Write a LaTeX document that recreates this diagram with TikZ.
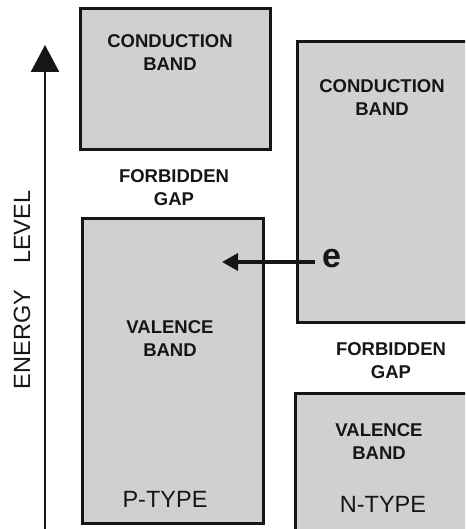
\documentclass[tikz,border=0pt]{standalone}
\usepackage{fontspec}
\setmainfont{Liberation Sans}
\usetikzlibrary{arrows.meta,positioning}
\definecolor{bandgray}{HTML}{D0D0D0}
\definecolor{inkgray}{HTML}{161616}

\begin{document}
\begin{tikzpicture}[
x=1pt,y=-1pt,
band/.style={draw=inkgray,fill=bandgray,line width=3pt,inner sep=0pt},
lbl/.style={align=center,font=\bfseries\fontsize{18.5}{23}\selectfont,inner sep=0pt,text=inkgray},
typ/.style={font=\fontsize{23.5}{27}\selectfont,inner sep=0pt,text=inkgray},
axis/.style={-{Triangle[width=28pt,length=27pt]},line width=2.5pt},
earr/.style={-{Triangle[width=17pt,length=16pt]},line width=3.5pt}
]
\useasboundingbox (0,0) rectangle (465,529);
\clip (0,0) rectangle (465,529);
% bands
\node[band,minimum width=190pt,minimum height=141pt] (pcb) at (175,79.5) {};
\node[band,minimum width=190pt,minimum height=280pt] (ncb) at (392,182) {};
\node[band,minimum width=181pt,minimum height=305pt] (pvb) at (172.5,370.5) {};
\node[band,minimum width=190pt,minimum height=150pt] (nvb) at (390,468) {};
% labels
\node[lbl] (pcbt) at (170,52.5) {CONDUCTION\\BAND};
\node[lbl] (ncbt) at (382,97.5) {CONDUCTION\\BAND};
\node[lbl] (pgap) at (174,187.5) {FORBIDDEN\\GAP};
\node[lbl] (ngap) at (391,361) {FORBIDDEN\\GAP};
\node[lbl] (pvbt) at (170,339) {VALENCE\\BAND};
\node[lbl] (nvbt) at (379,442) {VALENCE\\BAND};
\node[typ] (ptyp) at (165,499) {P-TYPE};
\node[typ] (ntyp) at (383,504) {N-TYPE};
% energy axis
\coordinate (axbot) at (45,535);
\coordinate (axtop) at (45,45);
\draw[axis,inkgray] (axbot) -- (axtop);
\node[typ,rotate=90] (elev) at (22,290) {ENERGY\hspace{26pt}LEVEL};
% electron
\node[font=\bfseries\fontsize{34}{36}\selectfont,inner sep=0pt,anchor=west,text=inkgray] (e) at (322,259) {e};
\coordinate (etip) at (222,262);
\draw[earr,inkgray] (e.west|-etip) ++(-7,0) coordinate (etail) (etail) -- (etip);
\end{tikzpicture}
\end{document}
